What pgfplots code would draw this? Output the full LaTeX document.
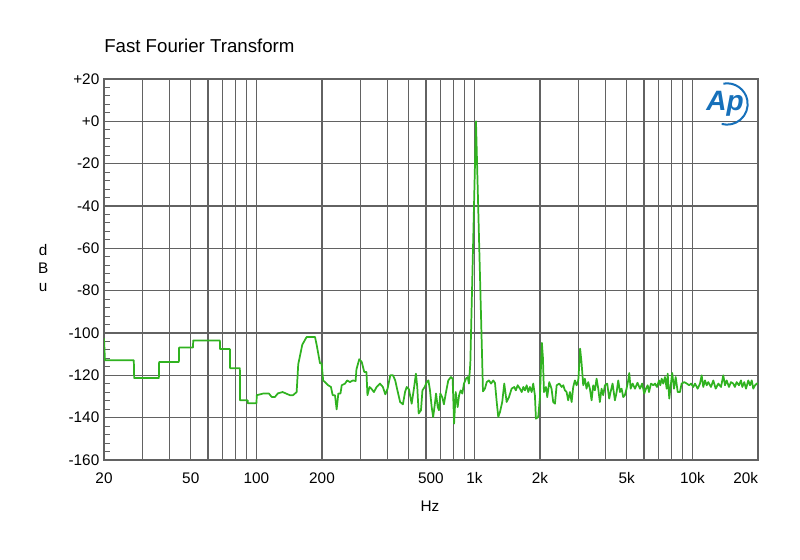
\documentclass[border=0pt]{standalone}
\usepackage{fontspec}
\setmainfont{Liberation Sans}
\usepackage{pgfplots}
\pgfplotsset{compat=1.18}
\usetikzlibrary{calc}

\definecolor{fftgreen}{RGB}{48,178,32}
\definecolor{gridgray}{RGB}{98,98,98}
\definecolor{apblue}{RGB}{22,112,186}

\begin{document}
\begin{tikzpicture}
% page = 800x560 px, 1 px = 0.75 pt, axis box at (104,79)-(758,460)
\path[use as bounding box] (-78pt,-75pt) rectangle (522pt,345pt);
\begin{axis}[
    at={(0,0)}, anchor=south west,
    scale only axis,
    width=490.5pt, height=285.75pt,
    xmode=log,
    xmin=20, xmax=20000,
    ymin=-160, ymax=20,
    xtick={20,50,100,200,1000,2000,5000,10000,20000},
    xticklabels={20,50,100,200,1k,2k,5k,10k,\makebox[0pt][r]{20k}},
    minor xtick={30,40,60,70,80,90,300,400,500,600,700,800,900,3000,4000,6000,7000,8000,9000},
    extra x ticks={632},
    extra x tick labels={500},
    extra x tick style={xmajorgrids=false},
    ytick={-160,-140,-120,-100,-80,-60,-40,-20,0,20},
    yticklabels={-160,-140,-120,-100,-80,-60,-40,-20,+0,+20},
    minor y tick num=4,
    ytick pos=left, xtick pos=bottom,
    major tick length=0pt,
    minor tick length=4.5pt,
    tick style={gridgray, line width=0.8pt},
    xmajorgrids, xminorgrids, ymajorgrids,
    major grid style={gridgray, line width=1pt},
    minor grid style={gridgray, line width=1pt},
    axis line style={gridgray, line width=1pt},
    ticklabel style={font=\fontsize{11.5}{12}\selectfont},
    xticklabel style={yshift=-6pt},
    title={Fast Fourier Transform},
    title style={at={(axis description cs:0,1.0656)}, anchor=west,
        font=\fontsize{14}{15}\selectfont, inner sep=0pt},
    xlabel={Hz},
    xlabel style={at={(axis description cs:0.4985,-0.121)}, anchor=center,
        font=\fontsize{11.5}{12}\selectfont},
    ylabel={d\\B\\u},
    ylabel style={rotate=-90, at={(axis description cs:-0.093,0.504)}, anchor=center,
        align=center, font=\fontsize{11.5}{13.5}\selectfont},
]
\coordinate (logoc) at (rel axis cs:0.9526,0.9344);

\addplot[fftgreen, line width=1.3pt, line join=round] coordinates {
(20,-102.5) (20.2,-112.9) (27.4,-112.9) (27.5,-121.3) (35.7,-121.3) (35.8,-113.7)
(44.1,-113.7) (44.2,-106.9) (51.2,-106.9) (51.3,-103.5) (68.0,-103.5) (68.1,-107.6)
(75.6,-107.6) (75.7,-116.6) (84.0,-116.6) (84.1,-131.8) (91.2,-131.8) (91.3,-133.2)
(100.2,-133.2) (100.3,-129.4) (107.5,-128.6) (114.2,-128.6) (117.5,-130.2) (121.7,-130.2)
(125.6,-128.5) (131.9,-127.9) (142.6,-129.4) (147.2,-129.4) (153.0,-127.9) (155.6,-114.8)
(162.4,-105.5) (170.0,-101.9) (185.8,-101.9) (189.2,-105.8) (195.8,-114.3) (199.2,-114.3)
(202.4,-122.4) (213.6,-124.7) (219.8,-125.5) (223.9,-129.4) (229.4,-129.4) (233.4,-136.1)
(237.7,-128.6) (243.1,-128.6) (246.3,-124.7) (255.0,-123.9) (260.9,-122.4) (268.6,-123.2)
(277.1,-122.4) (285.2,-122.7) (287.7,-117.2) (296.4,-112.4) (304.3,-113.7) (312.4,-118.4)
(319.8,-118.4) (323.2,-129.4) (330.2,-125.5) (337.3,-126.4) (346.1,-127.9) (356.1,-125.5)
(368.8,-123.9) (380.5,-125.5) (390.5,-129.0) (399.8,-126.3) (411.4,-120.0) (423.4,-120.0)
(433.3,-122.4) (443.6,-127.1) (456.4,-132.6) (470.0,-133.7) (480.8,-127.9) (489.1,-125.5)
(501.0,-126.6) (515.6,-133.4) (528.0,-126.3) (539.3,-119.2) (547.0,-125.5) (555.2,-138.0)
(568.9,-136.5) (577.8,-127.1) (591.9,-125.5) (604.3,-123.2) (615.4,-122.4) (625.7,-127.1)
(637,-135.0) (647,-139.7) (659,-133.4) (667,-128.6) (679,-135.0) (688,-136.5)
(698,-128.6) (712,-130.3) (725,-133.7) (739,-128.6) (759,-122.4) (781,-120.8)
(795,-121.6) (807,-142.8) (821,-127.9) (838,-135.0) (851,-129.4) (865,-127.1)
(880,-128.6) (896,-123.9) (915,-121.6) (932,-120.8) (944,-123.9) (958,-114.3)
(1017,0) (1095,-127.6) (1118,-126.3) (1139,-123.2) (1166,-122.4) (1192,-123.9)
(1221,-122.4) (1243,-123.6) (1266,-132.6) (1287,-139.7) (1311,-137.3) (1342,-132.6)
(1371,-123.9) (1406,-132.6) (1441,-130.3) (1482,-126.3) (1524,-125.5) (1549,-127.1)
(1580,-124.7) (1618,-126.3) (1648,-127.9) (1677,-125.5) (1706,-127.1) (1737,-124.7)
(1767,-127.9) (1798,-125.5) (1831,-127.9) (1862,-123.9) (1895,-129.4) (1916,-140.5)
(1963,-139.7) (1999,-130.3) (2020,-116.1) (2040,-104.7) (2062,-111.4) (2085,-127.9)
(2130,-125.5) (2159,-130.3) (2205,-123.2) (2259,-126.3) (2299,-132.6) (2342,-133.4)
(2384,-124.7) (2452,-123.9) (2515,-125.5) (2557,-124.7) (2602,-127.1) (2648,-127.9)
(2693,-131.8) (2743,-127.9) (2793,-132.6) (2840,-125.5) (2891,-122.4) (2943,-124.7)
(2996,-122.4) (3030,-114.5) (3055,-107.4) (3100,-113.7) (3157,-124.7) (3212,-121.6)
(3270,-126.3) (3327,-123.2) (3387,-126.3) (3449,-131.8) (3508,-124.7) (3571,-127.1)
(3636,-121.6) (3700,-126.3) (3764,-132.6) (3833,-126.3) (3899,-129.4) (3970,-124.7)
(4068,-123.9) (4153,-131.0) (4214,-127.9) (4304,-123.9) (4413,-131.8) (4493,-127.9)
(4570,-122.4) (4652,-127.9) (4735,-126.3) (4816,-130.3) (4900,-129.4) (4990,-126.3)
(5078,-122.4) (5133,-118.9) (5210,-126.3) (5320,-123.9) (5454,-126.3) (5600,-123.5)
(5748,-126.3) (5880,-123.9) (6016,-128.6) (6126,-126.3) (6238,-124.7) (6324,-127.9)
(6459,-123.9) (6617,-124.7) (6736,-123.9) (6880,-125.5) (7030,-122.4) (7125,-124.7)
(7231,-121.6) (7351,-123.9) (7487,-120.8) (7623,-126.3) (7705,-119.2) (7835,-131.0)
(7976,-123.9) (8080,-118.9) (8236,-126.3) (8384,-120.8) (8563,-127.9) (8770,-127.9)
(8927,-123.9) (9180,-123.2) (9430,-123.9) (9660,-124.7) (9860,-123.9) (10095,-125.5)
(10280,-123.9) (10575,-126.3) (10836,-123.9) (11030,-120.0) (11220,-125.5) (11423,-122.4)
(11630,-124.7) (11826,-123.2) (12170,-125.5) (12470,-122.4) (12790,-126.3) (13150,-123.9)
(13530,-125.5) (13860,-120.0) (14110,-124.7) (14360,-122.4) (14720,-125.5) (15030,-123.2)
(15400,-123.9) (15670,-125.5) (15960,-123.2) (16350,-124.7) (16710,-122.4) (16940,-125.5)
(17300,-123.2) (17620,-126.3) (18050,-122.4) (18380,-124.7) (18720,-122.4) (19030,-126.3)
(19380,-124.7) (19740,-123.9) (20000,-123.9)
};
\end{axis}

% Ap logo
\node[text=apblue, font=\bfseries\itshape\fontsize{21}{21}\selectfont, inner sep=0pt]
    at ($(logoc)+(-1.5pt,0)$) {Ap};
\draw[apblue, line width=1.5pt] ($(logoc)+(100:15.5pt)$) arc[start angle=100, end angle=-105, radius=15.5pt];
\end{tikzpicture}
\end{document}
